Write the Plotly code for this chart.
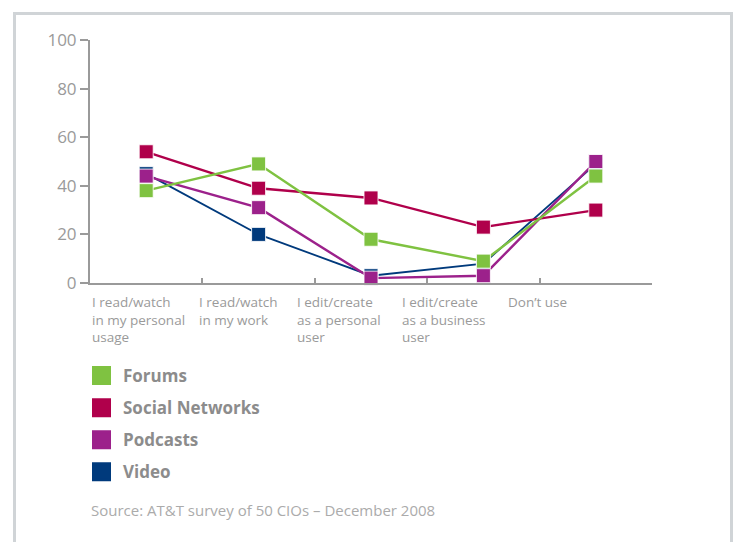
import plotly.graph_objects as go

categories = [
    "I read/watch<br>in my personal<br>usage",
    "I read/watch<br>in my work",
    "I edit/create<br>as a personal<br>user",
    "I edit/create<br>as a business<br>user",
    "Don\u2019t use",
]
forums = [38, 49, 18, 9, 44]
social_networks = [54, 39, 35, 23, 30]
podcasts = [44, 31, 2, 3, 50]
video = [45, 20, 3, 8, 49]
y_ticks = [0, 20, 40, 60, 80, 100]

series_names = ["Forums", "Social Networks", "Podcasts", "Video"]
series_vals = [forums, social_networks, podcasts, video]
colors = {"Forums": "#7fc241", "Social Networks": "#b0004b",
          "Podcasts": "#9c218b", "Video": "#003a7c"}
widths = {"Forums": 2.4, "Social Networks": 2.4, "Podcasts": 2.4, "Video": 1.8}

x_idx = list(range(len(categories)))

# plot area in px
L, R, T, B = 90, 652, 40, 283
W, H = 738, 542
pw, ph = R - L, B - T

def px_x(p):
    return (p - L) / pw

def px_y(p):
    return (B - p) / ph

fig = go.Figure()

draw_order = ["Video", "Podcasts", "Social Networks", "Forums"]
for name in draw_order:
    vals = series_vals[series_names.index(name)]
    fig.add_trace(go.Scatter(
        x=x_idx, y=vals, mode="lines+markers", name=name, showlegend=False,
        line=dict(color=colors[name], width=widths[name]),
        marker=dict(symbol="square", size=14, color=colors[name],
                    line=dict(color="rgba(255,255,255,0.85)", width=1)),
        cliponaxis=False,
    ))

# legend entries
for name in series_names:
    fig.add_trace(go.Scatter(
        x=[None], y=[None], mode="markers", name=name, legendgroup=name,
        marker=dict(symbol="square", size=16, color=colors[name],
                    line=dict(color=colors[name], width=3)),
    ))

grey = "#9a9a9a"

# x category labels (left aligned, multi-line)
label_px = [91, 198, 296, 401, 507]
annotations = []
for lab, p in zip(categories, label_px):
    annotations.append(dict(
        x=px_x(p), xref="paper", xanchor="left",
        y=px_y(292), yref="paper", yanchor="top",
        text=lab, align="left", showarrow=False, borderpad=0,
        font=dict(family="Open Sans", size=13.5, color=grey),
    ))

annotations.append(dict(
    x=px_x(89), xref="paper", xanchor="left",
    y=px_y(510), yref="paper", yanchor="middle",
    text="Source: AT&T survey of 50 CIOs \u2013 December 2008", showarrow=False,
    font=dict(family="Open Sans", size=15, color="#ababab"),
))

shapes = [dict(
    type="rect", xref="paper", yref="paper",
    x0=px_x(14.5), x1=px_x(731.5), y0=px_y(600), y1=px_y(13.5),
    line=dict(color="#d0d4d7", width=3), fillcolor="rgba(0,0,0,0)", layer="below",
)]

fig.update_layout(
    width=W, height=H,
    margin=dict(l=L, r=W - R, t=T, b=H - B),
    paper_bgcolor="white", plot_bgcolor="white",
    showlegend=True,
    legend=dict(
        x=px_x(80), xanchor="left", y=px_y(358), yanchor="top",
        traceorder="grouped", tracegroupgap=7, itemwidth=33,
        font=dict(family="Open Sans", size=17, color="#8c8c8c", weight="bold"),
        bgcolor="rgba(0,0,0,0)", borderwidth=0,
    ),
    annotations=annotations,
    shapes=shapes,
    xaxis=dict(
        range=[-0.5, 4.5], showgrid=False, zeroline=False,
        tickvals=[0.5, 1.5, 2.5, 3.5], ticks="inside", ticklen=5, tickwidth=2,
        tickcolor=grey, showticklabels=False,
        showline=True, linecolor=grey, linewidth=2,
    ),
    yaxis=dict(
        range=[0, 100], showgrid=False, zeroline=False,
        tickvals=y_ticks, ticks="outside", ticklen=8, tickwidth=2, tickcolor=grey,
        showline=True, linecolor=grey, linewidth=2,
        tickfont=dict(family="Open Sans", size=17, color=grey),
    ),
    font=dict(family="Open Sans"),
)

fig.write_html("out.html")
